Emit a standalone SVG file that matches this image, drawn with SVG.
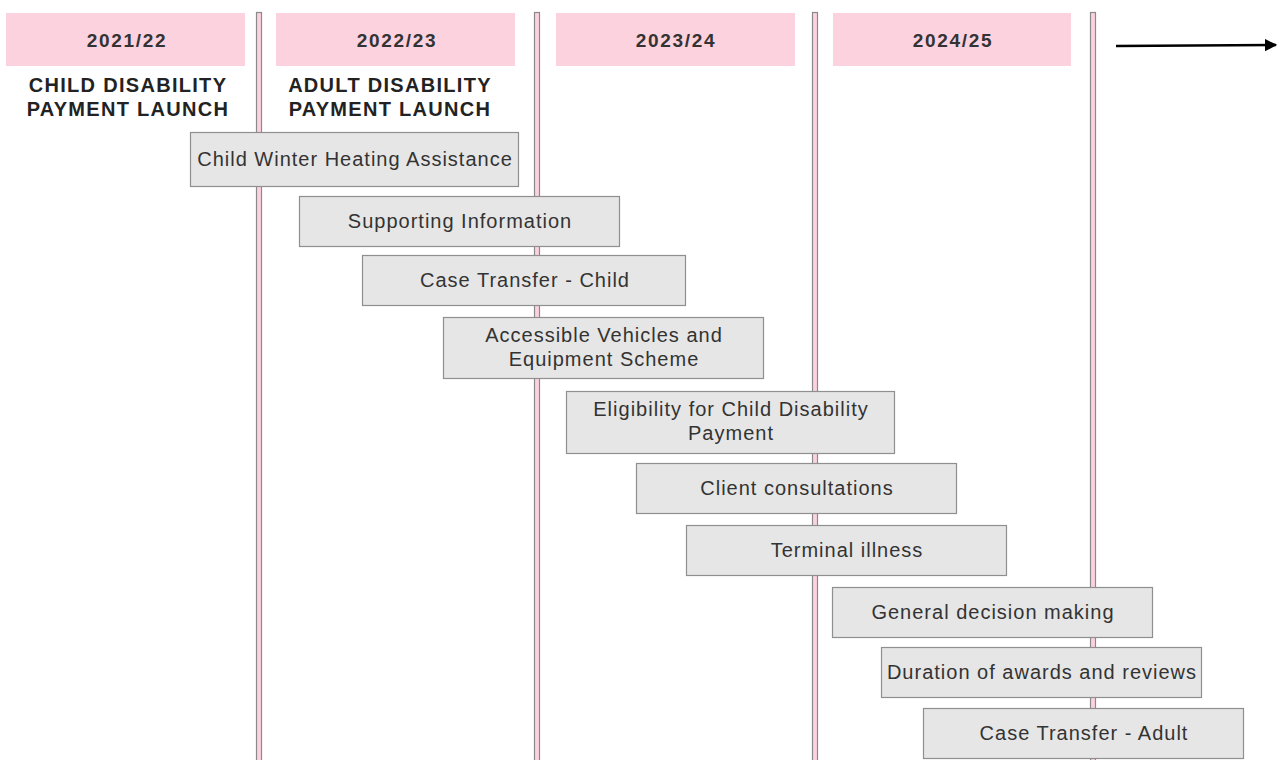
<svg xmlns="http://www.w3.org/2000/svg" width="1278" height="760" viewBox="0 0 1278 760">
<defs>
<style>
.hdr{fill:#fcd2de}
.bar{fill:#fcd2de;stroke:#8a8a8a;stroke-width:1.2}
.box{fill:#e6e6e6;stroke:#8f8f8f;stroke-width:1.2}
.t{font-family:"Liberation Sans",Arial,sans-serif;font-size:20px;letter-spacing:1px;fill:#333;text-anchor:middle}
.h{font-family:"Liberation Sans",Arial,sans-serif;font-size:19px;letter-spacing:1.7px;font-weight:bold;fill:#333;text-anchor:middle}
.l{font-family:"Liberation Sans",Arial,sans-serif;font-size:20px;letter-spacing:1.3px;font-weight:bold;fill:#222;text-anchor:middle}
</style>
<marker id="ah" viewBox="0 0 10 10" refX="9" refY="5" markerWidth="5" markerHeight="5" orient="auto" markerUnits="strokeWidth"><path d="M0,0 L10,5 L0,10 Z" fill="#000"/></marker>
</defs>
<rect width="1278" height="760" fill="#fff"/>
<g id="bars">
<rect class="bar" x="256.5" y="12.5" width="5" height="760"/>
<rect class="bar" x="534.5" y="12.5" width="5" height="760"/>
<rect class="bar" x="812.5" y="12.5" width="5" height="760"/>
<rect class="bar" x="1090.5" y="12.5" width="5" height="760"/>
</g>
<g id="h1"><rect class="hdr" x="6" y="13" width="239" height="53"/><text class="h" x="127" y="47">2021/22</text></g>
<g id="h2"><rect class="hdr" x="276" y="13" width="239" height="53"/><text class="h" x="397" y="47">2022/23</text></g>
<g id="h3"><rect class="hdr" x="556" y="13" width="239" height="53"/><text class="h" x="676" y="47">2023/24</text></g>
<g id="h4"><rect class="hdr" x="833" y="13" width="238" height="53"/><text class="h" x="953" y="47">2024/25</text></g>
<g id="l1"><text class="l" x="128" y="92">CHILD DISABILITY</text><text class="l" x="128" y="116">PAYMENT LAUNCH</text></g>
<g id="l2"><text class="l" x="390" y="92">ADULT DISABILITY</text><text class="l" x="390" y="116">PAYMENT LAUNCH</text></g>
<g id="connectors"><line x1="1116" y1="46" x2="1276" y2="45" stroke="#000" stroke-width="2.5" marker-end="url(#ah)"/></g>
<g id="n1"><rect class="box" x="190.5" y="132.5" width="328" height="54"/><text class="t" x="355" y="166">Child Winter Heating Assistance</text></g>
<g id="n2"><rect class="box" x="299.5" y="196.5" width="320" height="50"/><text class="t" x="460" y="228">Supporting Information</text></g>
<g id="n3"><rect class="box" x="362.5" y="255.5" width="323" height="50"/><text class="t" x="525" y="287">Case Transfer - Child</text></g>
<g id="n4"><rect class="box" x="443.5" y="317.5" width="320" height="61"/><text class="t" x="604" y="342">Accessible Vehicles and</text><text class="t" x="604" y="366">Equipment Scheme</text></g>
<g id="n5"><rect class="box" x="566.5" y="391.5" width="328" height="62"/><text class="t" x="731" y="416">Eligibility for Child Disability</text><text class="t" x="731" y="440">Payment</text></g>
<g id="n6"><rect class="box" x="636.5" y="463.5" width="320" height="50"/><text class="t" x="797" y="495">Client consultations</text></g>
<g id="n7"><rect class="box" x="686.5" y="525.5" width="320" height="50"/><text class="t" x="847" y="557">Terminal illness</text></g>
<g id="n8"><rect class="box" x="832.5" y="587.5" width="320" height="50"/><text class="t" x="993" y="619">General decision making</text></g>
<g id="n9"><rect class="box" x="881.5" y="647.5" width="320" height="50"/><text class="t" x="1042" y="679">Duration of awards and reviews</text></g>
<g id="n10"><rect class="box" x="923.5" y="708.5" width="320" height="50"/><text class="t" x="1084" y="740">Case Transfer - Adult</text></g>
</svg>
